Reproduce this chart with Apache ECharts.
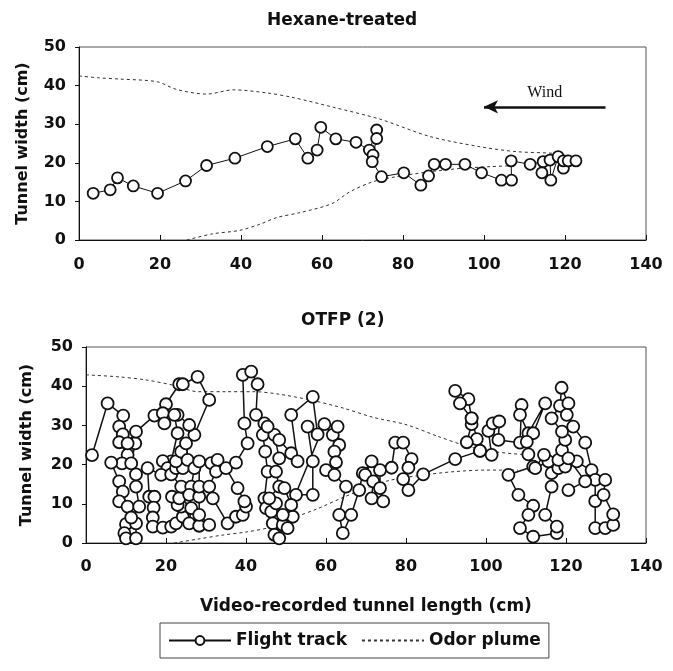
<!DOCTYPE html>
<html lang="en">
<head>
    <meta charset="utf-8">
    <script src="https://cdn.jsdelivr.net/npm/echarts@6/dist/echarts.min.js"></script>
    <style>
        html, body { margin: 0; padding: 0; background: #fff; }
        #main { width: 673px; height: 671px; }
    </style>
</head>
<body>
<div id="main"></div>

<script type="text/javascript">
    // axis range
    var xMin = 0, xMax = 140, xStep = 20;
    var yMin = 0, yMax = 50, yStep = 10;

    var panelTitles = ['Hexane-treated', 'OTFP (2)'];
    var seriesNames = ['Flight track', 'Odor plume'];

    // Hexane-treated panel
    var hexaneTrack = [
        [3.5, 12.1], [7.7, 13.0], [9.5, 16.1], [13.4, 14.0], [19.4, 12.1], [26.3, 15.3], [31.5, 19.3],
        [38.5, 21.2], [46.5, 24.2], [53.4, 26.2], [56.5, 21.2], [58.8, 23.3], [59.7, 29.2], [63.4, 26.2],
        [68.4, 25.3], [71.7, 23.3], [73.5, 28.5], [73.5, 26.3], [72.6, 22.0], [72.4, 20.3], [74.7, 16.4],
        [80.2, 17.4], [84.4, 14.2], [86.3, 16.6], [87.7, 19.6], [90.5, 19.6], [95.3, 19.6], [99.4, 17.4],
        [104.3, 15.5], [106.8, 15.5], [106.7, 20.5], [111.4, 19.6], [114.6, 20.3], [114.3, 17.4],
        [116.3, 20.7], [116.5, 15.5], [118.3, 21.6], [119.6, 18.6], [119.6, 20.5], [120.8, 20.5], [122.7, 20.5]
    ];
    var hexanePlumeUpper = [
        [0, 42.5], [5, 42.0], [10, 41.7], [19.3, 41.0], [24.1, 39.0], [31.5, 37.8], [38.1, 38.9], [46.4, 38.1],
        [52.9, 36.9], [62.4, 34.5], [74.3, 31.3], [86.7, 26.8], [98.8, 24.2], [107.9, 22.9], [117.8, 22.4], [123, 21.5]
    ];
    var hexanePlumeLower = [
        [26.6, 0], [33, 1.6], [39.7, 2.5], [44.7, 4.1], [48.8, 5.8], [54.6, 7.1], [62.4, 9.4], [66.9, 12.5],
        [72.6, 15.1], [78.4, 16.4], [86.7, 17.7], [94.9, 18.6], [101.5, 19.0], [106, 19.2]
    ];
    // wind arrow, from right to left
    var windArrow = [[130, 34.5], [100, 34.5]];

    // OTFP (2) panel
    var otfpTrack = [
        [1.5, 22.4], [5.4, 35.6], [9.3, 32.5], [8.3, 29.7], [9.2, 27.7], [8.3, 25.7], [10.4, 22.5], [9.0, 20.3],
        [6.3, 20.5], [8.3, 15.7], [9.2, 13.1], [8.3, 10.6], [10.4, 9.3], [10.0, 4.8], [9.6, 2.5], [10.0, 1.2],
        [12.5, 1.2], [12.5, 5.0], [11.3, 6.5], [13.3, 9.3], [12.5, 14.4], [12.5, 17.5], [11.3, 20.3], [12.3, 25.4],
        [10.4, 25.4], [12.5, 28.4], [17.1, 32.5], [20.0, 35.4], [23.3, 40.5], [24.2, 40.5], [27.9, 42.4],
        [30.8, 36.5], [27.1, 27.6], [25.8, 30.1], [22.9, 32.7], [19.2, 33.1], [19.6, 30.5], [22.1, 32.7],
        [22.9, 28.0], [21.3, 20.8], [19.2, 20.9], [20.4, 19.1], [18.8, 17.4], [15.4, 19.1], [15.8, 11.8],
        [17.1, 11.8], [16.9, 9.0], [16.7, 6.5], [16.7, 4.2], [19.2, 3.9], [21.3, 4.2], [22.5, 5.0], [24.2, 6.7],
        [23.8, 9.3], [22.9, 9.7], [21.5, 11.8], [23.3, 11.4], [23.8, 14.4], [21.3, 17.5], [22.5, 19.1],
        [24.2, 19.1], [22.5, 20.8], [23.8, 23.3], [25.0, 25.4], [25.4, 21.2], [27.1, 19.1], [26.3, 14.4],
        [25.8, 12.3], [26.3, 8.9], [25.8, 5.0], [28.3, 4.4], [30.8, 4.6], [28.3, 7.2], [28.3, 11.8], [28.3, 14.4],
        [28.3, 20.8], [31.3, 20.4], [32.9, 21.2], [32.5, 18.2], [30.8, 14.4], [31.7, 11.4], [35.4, 5.0],
        [37.5, 6.7], [39.2, 7.2], [40.0, 9.3], [39.6, 10.6], [37.9, 14.0], [35.0, 19.1], [37.5, 20.5],
        [40.4, 25.4], [39.6, 30.5], [39.2, 42.9], [41.3, 43.7], [42.9, 40.5], [42.5, 32.7], [44.6, 30.5],
        [44.2, 27.6], [44.8, 23.3], [45.4, 18.2], [44.6, 11.4], [45.0, 8.9], [46.3, 8.0], [46.7, 5.0],
        [47.1, 2.1], [48.3, 1.2], [49.2, 4.6], [50.4, 3.8], [51.7, 6.7], [49.2, 7.2], [47.5, 10.1], [45.8, 11.4],
        [48.3, 14.4], [47.5, 18.2], [48.3, 21.6], [47.1, 27.6], [45.4, 29.7], [48.3, 26.3], [51.3, 22.9],
        [52.9, 20.8], [51.3, 32.7], [56.7, 37.3], [57.9, 27.7], [55.4, 29.7], [56.7, 20.8], [56.7, 12.3],
        [52.5, 12.3], [49.6, 14.0], [51.3, 9.7], [59.6, 30.3], [61.7, 27.6], [62.9, 29.7], [63.3, 25.0],
        [62.1, 23.3], [62.5, 20.6], [60.0, 18.6], [62.1, 17.4], [65.0, 14.4], [63.3, 7.2], [64.2, 2.5],
        [66.3, 7.2], [68.3, 13.5], [69.2, 17.8], [71.4, 20.8], [69.8, 17.4], [71.8, 15.7], [71.4, 11.4],
        [74.3, 10.6], [73.5, 14.0], [73.5, 18.6], [76.4, 19.2], [77.3, 25.6], [79.3, 25.6], [81.4, 21.4],
        [80.6, 19.2], [79.3, 16.3], [80.6, 13.5], [84.3, 17.5], [92.3, 21.4], [98.5, 23.5], [97.7, 26.5],
        [95.2, 25.7], [96.4, 30.3], [96.4, 31.8], [95.6, 36.7], [92.3, 38.8], [93.5, 35.6], [96.4, 31.8],
        [98.5, 23.5], [101.4, 22.5], [100.6, 28.6], [101.7, 30.5], [103.3, 31.0], [103.1, 26.3], [108.5, 25.6],
        [108.9, 35.2], [108.5, 32.7], [110.6, 28.0], [114.8, 35.6], [111.8, 28.0], [110.2, 25.8], [110.6, 22.6],
        [111.8, 19.5], [105.6, 17.4], [108.1, 12.3], [111.8, 9.5], [110.6, 7.2], [108.5, 3.8], [111.8, 1.6],
        [117.7, 2.5], [117.7, 4.2], [114.8, 7.2], [116.4, 14.4], [116.4, 17.8], [115.6, 20.8], [112.3, 19.1],
        [114.5, 22.5], [118.1, 19.1], [119.8, 19.5], [118.1, 21.2], [119.0, 23.7], [119.8, 26.3], [119.0, 28.4],
        [116.4, 31.8], [118.5, 35.0], [118.9, 39.6], [120.6, 35.6], [120.2, 32.7], [121.8, 29.7], [124.8, 25.6],
        [126.4, 18.6], [127.3, 16.1], [127.3, 10.7], [127.3, 3.8], [129.8, 3.8], [131.8, 4.6], [131.8, 7.3],
        [129.4, 12.3], [129.8, 16.1], [122.7, 20.8], [120.6, 21.6], [124.8, 15.7], [120.6, 13.5]
    ];
    var otfpPlumeUpper = [
        [0, 42.9], [8, 42.4], [15, 41.6], [22, 40.2], [28, 38.6], [35, 38.6], [42, 38.6], [48, 38.0], [56, 36.5],
        [64, 34.5], [72, 32.0], [80, 30.2], [88, 27.2], [95, 24.8], [102, 23.3], [110, 22.5], [120, 21.6]
    ];
    var otfpPlumeLower = [
        [22, 0], [28, 1.0], [34, 2.0], [40, 2.8], [46, 4.0], [52, 6.5], [58, 8.8], [64, 11.5], [70, 14.0],
        [76, 16.0], [84, 17.3], [92, 18.2], [100, 18.6], [108, 18.6]
    ];

    var font = 'DejaVu Sans';
    var ink = '#111';

    function xAxisFor(i, withName, labelMargin) {
        return {
            type: 'value', gridIndex: i, min: xMin, max: xMax, interval: xStep,
            name: withName ? 'Video-recorded tunnel length (cm)' : '',
            nameLocation: 'middle', nameGap: 55,
            nameTextStyle: { fontFamily: font, fontWeight: 'bold', fontSize: 17, color: ink },
            axisLine: { lineStyle: { color: ink, width: 1 } },
            axisTick: { inside: true, length: 5, lineStyle: { color: ink } },
            axisLabel: { fontFamily: font, fontWeight: 'bold', fontSize: 16, color: ink, margin: labelMargin },
            splitLine: { show: false }
        };
    }

    function yAxisFor(i, gap) {
        return {
            type: 'value', gridIndex: i, min: yMin, max: yMax, interval: yStep,
            name: 'Tunnel width (cm)', nameLocation: 'middle', nameGap: gap,
            nameTextStyle: { fontFamily: font, fontWeight: 'bold', fontSize: 16, color: ink },
            axisLine: { lineStyle: { color: ink, width: 1 } },
            axisTick: { length: 4, lineStyle: { color: ink } },
            axisLabel: { fontFamily: font, fontWeight: 'bold', fontSize: 16, color: ink, margin: 13 },
            splitLine: { show: false }
        };
    }

    function trackSeries(i, data, size, width) {
        return {
            name: seriesNames[0], type: 'line', xAxisIndex: i, yAxisIndex: i,
            data: data, symbol: 'circle', symbolSize: size, z: 3,
            lineStyle: { color: ink, width: width },
            itemStyle: { color: '#fff', borderColor: ink, borderWidth: 1.8 }
        };
    }

    function plumeSeries(i, data) {
        return {
            name: seriesNames[1], type: 'line', xAxisIndex: i, yAxisIndex: i,
            data: data, symbol: 'none', smooth: 0.3, z: 2,
            lineStyle: { color: '#333', width: 1, type: [3, 3] },
            itemStyle: { color: '#333' }
        };
    }

    var chart = echarts.init(document.getElementById('main'));

    var hexaneSeries = trackSeries(0, hexaneTrack, 11, 1);
    hexaneSeries.markLine = {
        silent: true, animation: false,
        symbol: ['none', 'arrow'], symbolSize: [10, 14],
        lineStyle: { color: ink, width: 2.5, type: 'solid' },
        label: {
            show: true, position: 'insideMiddleTop', formatter: 'Wind',
            fontFamily: 'Liberation Serif', fontSize: 16, color: ink, distance: 6
        },
        data: [[{ coord: windArrow[0] }, { coord: windArrow[1] }]]
    };

    var option = {
        animation: false,
        backgroundColor: '#fff',
        title: [
            { text: panelTitles[0], left: 262, top: 7,
              textStyle: { fontFamily: font, fontWeight: 'bold', fontSize: 17, color: ink } },
            { text: panelTitles[1], left: 296, top: 307,
              textStyle: { fontFamily: font, fontWeight: 'bold', fontSize: 17, color: ink } }
        ],
        legend: {
            data: [
                { name: seriesNames[0] },
                { name: seriesNames[1], itemStyle: { opacity: 0 } }
            ],
            left: 160, top: 623,
            padding: [9, 8], itemGap: 14, itemWidth: 62, itemHeight: 11,
            borderColor: '#444', borderWidth: 1,
            textStyle: { fontFamily: font, fontWeight: 'bold', fontSize: 17, color: ink }
        },
        grid: [
            { left: 79, right: 27, top: 47, height: 193, show: true, borderColor: '#555', borderWidth: 1 },
            { left: 86, right: 27, top: 347, height: 196, show: true, borderColor: '#555', borderWidth: 1 }
        ],
        xAxis: [xAxisFor(0, false, 17), xAxisFor(1, true, 16)],
        yAxis: [yAxisFor(0, 48), yAxisFor(1, 51)],
        series: [
            hexaneSeries,
            plumeSeries(0, hexanePlumeUpper),
            plumeSeries(0, hexanePlumeLower),
            trackSeries(1, otfpTrack, 12, 1.5),
            plumeSeries(1, otfpPlumeUpper),
            plumeSeries(1, otfpPlumeLower)
        ]
    };

    chart.setOption(option);
</script>
</body>
</html>
